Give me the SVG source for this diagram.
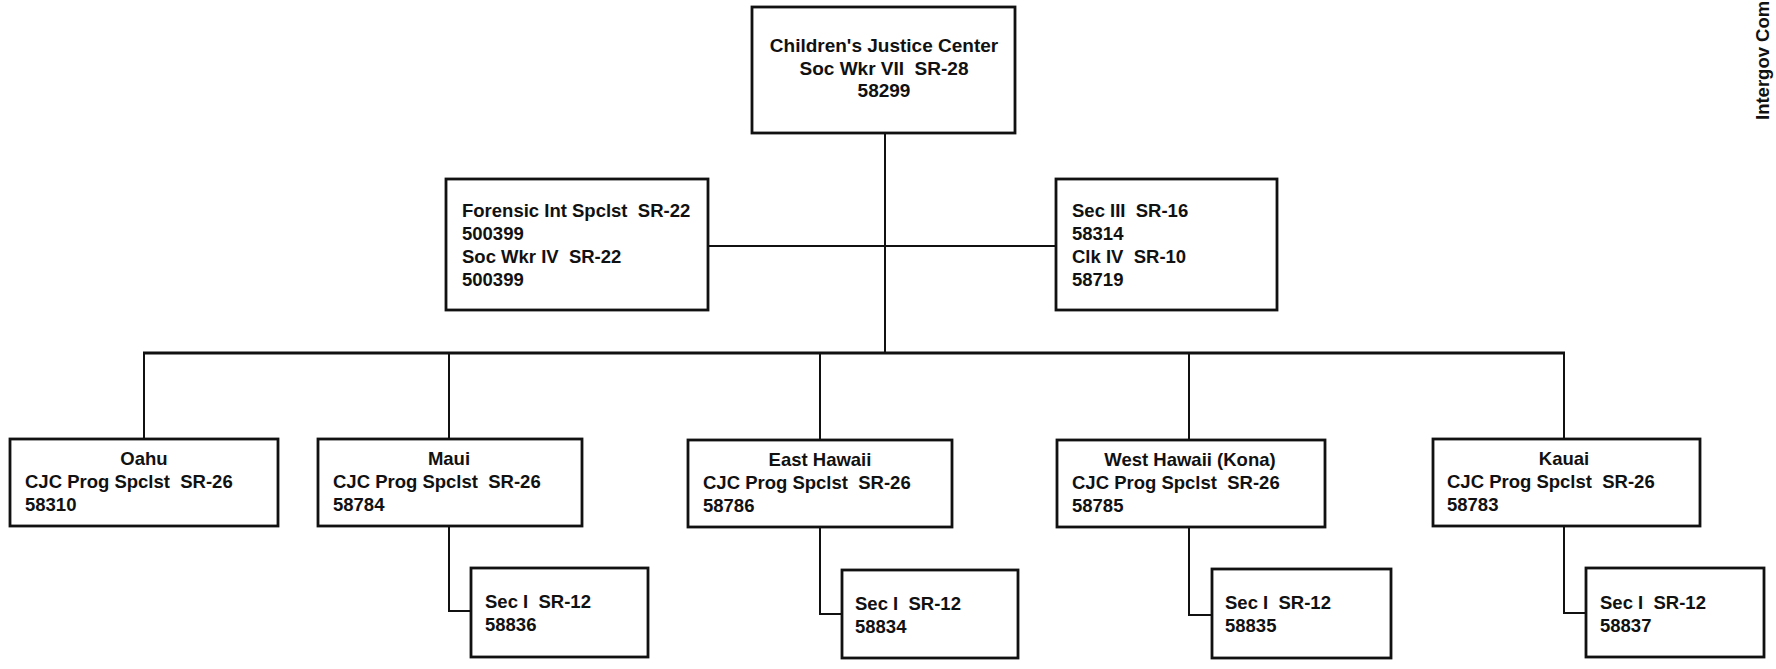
<svg xmlns="http://www.w3.org/2000/svg" width="1776" height="669" viewBox="0 0 1776 669">
<style>
.box{fill:#fff;stroke:#111;stroke-width:2.8}
.t{font-family:"Liberation Sans",Arial,sans-serif;font-weight:bold;font-size:18.5px;fill:#111;white-space:pre}
.c{text-anchor:middle}
.top{font-size:19px}
.con{fill:none;stroke:#111;stroke-width:2}
.bus{fill:none;stroke:#111;stroke-width:3}
</style>
<rect width="1776" height="669" fill="#fff"/>
<g id="connectors">
<line class="con" x1="885" y1="133" x2="885" y2="353"/>
<line class="con" x1="708" y1="246" x2="1056" y2="246"/>
<line class="bus" x1="143" y1="353" x2="1565" y2="353"/>
<line class="con" x1="144" y1="353" x2="144" y2="439"/>
<line class="con" x1="449" y1="353" x2="449" y2="439"/>
<line class="con" x1="820" y1="353" x2="820" y2="440"/>
<line class="con" x1="1189" y1="353" x2="1189" y2="440"/>
<line class="con" x1="1564" y1="353" x2="1564" y2="439"/>
<polyline class="con" points="449,526 449,611 471,611"/>
<polyline class="con" points="820,527 820,614 842,614"/>
<polyline class="con" points="1189,527 1189,615 1212,615"/>
<polyline class="con" points="1564,526 1564,613 1586,613"/>
</g>
<g id="cjc">
<rect class="box" x="752" y="7" width="263" height="126"/>
<text class="t top c" x="884" y="52">Children's Justice Center</text>
<text class="t top c" x="884" y="75" xml:space="preserve">Soc Wkr VII  SR-28</text>
<text class="t top c" x="884" y="97">58299</text>
</g>
<g id="forensic">
<rect class="box" x="446" y="179" width="262" height="131"/>
<text class="t" x="462" y="217" xml:space="preserve">Forensic Int Spclst  SR-22</text>
<text class="t" x="462" y="240">500399</text>
<text class="t" x="462" y="263" xml:space="preserve">Soc Wkr IV  SR-22</text>
<text class="t" x="462" y="286">500399</text>
</g>
<g id="secIII">
<rect class="box" x="1056" y="179" width="221" height="131"/>
<text class="t" x="1072" y="217" xml:space="preserve">Sec III  SR-16</text>
<text class="t" x="1072" y="240">58314</text>
<text class="t" x="1072" y="263" xml:space="preserve">Clk IV  SR-10</text>
<text class="t" x="1072" y="286">58719</text>
</g>
<g id="oahu">
<rect class="box" x="10" y="439" width="268" height="87"/>
<text class="t c" x="144" y="465">Oahu</text>
<text class="t" x="25" y="488" xml:space="preserve">CJC Prog Spclst  SR-26</text>
<text class="t" x="25" y="511">58310</text>
</g>
<g id="maui">
<rect class="box" x="318" y="439" width="264" height="87"/>
<text class="t c" x="449" y="465">Maui</text>
<text class="t" x="333" y="488" xml:space="preserve">CJC Prog Spclst  SR-26</text>
<text class="t" x="333" y="511">58784</text>
</g>
<g id="east-hawaii">
<rect class="box" x="688" y="440" width="264" height="87"/>
<text class="t c" x="820" y="466">East Hawaii</text>
<text class="t" x="703" y="489" xml:space="preserve">CJC Prog Spclst  SR-26</text>
<text class="t" x="703" y="512">58786</text>
</g>
<g id="west-hawaii">
<rect class="box" x="1057" y="440" width="268" height="87"/>
<text class="t c" x="1190" y="466">West Hawaii (Kona)</text>
<text class="t" x="1072" y="489" xml:space="preserve">CJC Prog Spclst  SR-26</text>
<text class="t" x="1072" y="512">58785</text>
</g>
<g id="kauai">
<rect class="box" x="1433" y="439" width="267" height="87"/>
<text class="t c" x="1564" y="465">Kauai</text>
<text class="t" x="1447" y="488" xml:space="preserve">CJC Prog Spclst  SR-26</text>
<text class="t" x="1447" y="511">58783</text>
</g>
<g id="maui-sec">
<rect class="box" x="471" y="568" width="177" height="89"/>
<text class="t" x="485" y="608" xml:space="preserve">Sec I  SR-12</text>
<text class="t" x="485" y="631">58836</text>
</g>
<g id="east-sec">
<rect class="box" x="842" y="570" width="176" height="88"/>
<text class="t" x="855" y="610" xml:space="preserve">Sec I  SR-12</text>
<text class="t" x="855" y="633">58834</text>
</g>
<g id="west-sec">
<rect class="box" x="1212" y="569" width="179" height="89"/>
<text class="t" x="1225" y="609" xml:space="preserve">Sec I  SR-12</text>
<text class="t" x="1225" y="632">58835</text>
</g>
<g id="kauai-sec">
<rect class="box" x="1586" y="568" width="178" height="89"/>
<text class="t" x="1600" y="609" xml:space="preserve">Sec I  SR-12</text>
<text class="t" x="1600" y="632">58837</text>
</g>
<g id="side-label">
<text class="t" transform="translate(1769,120) rotate(-90)" font-size="18">Intergov Com</text>
</g>
</svg>
